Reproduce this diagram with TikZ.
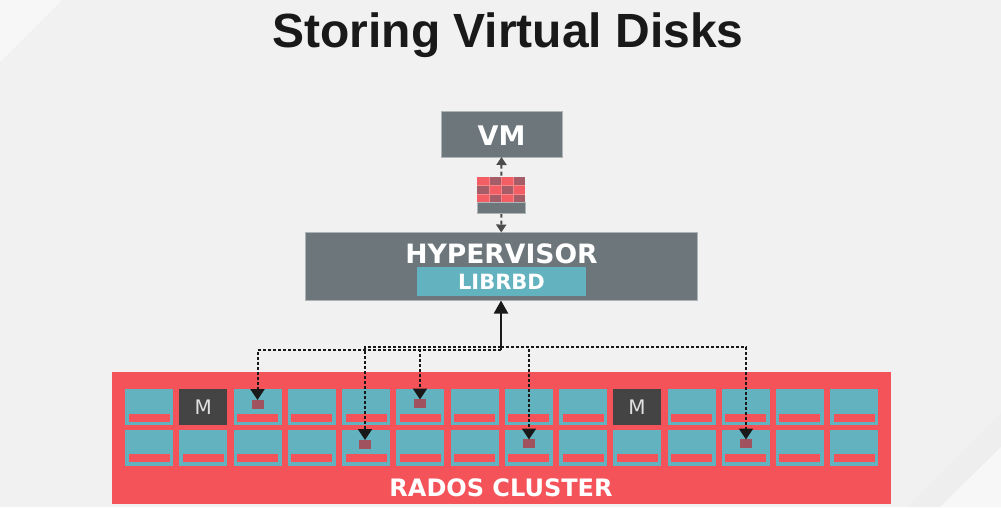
\documentclass[tikz,border=0pt]{standalone}
\usepackage{fontspec}
\setmainfont{DejaVu Sans}
\newfontfamily\titlefont{Liberation Sans}
\usetikzlibrary{arrows.meta}
\definecolor{pagegray}{HTML}{F1F1F1}
\definecolor{lightgray}{HTML}{F7F7F7}
\definecolor{bandgray}{HTML}{EEEEEE}
\definecolor{slate}{HTML}{6D767B}
\definecolor{teal}{HTML}{62B3BF}
\definecolor{radosred}{HTML}{F4535A}
\definecolor{dimred}{HTML}{A0525E}
\definecolor{monitor}{HTML}{444444}
\tikzset{
  box/.style={draw=#1, fill=#1, inner sep=0pt, outer sep=0pt, line width=0.6pt},
  graybox/.style={fill=slate, draw=slate!55!white, inner sep=0pt, outer sep=0pt, line width=0.8pt},
  label/.style={text=white, font=\bfseries\fontsize{#1}{#1}\selectfont},
  cell/.style={box=teal, minimum width=47pt, minimum height=35pt},
  moncell/.style={box=monitor, minimum width=47pt, minimum height=35pt, text=white!88!black, font=\fontsize{20}{20}\selectfont},
  stripe/.style={box=radosred, minimum width=40pt, minimum height=7pt},
  chunk/.style={box=dimred, minimum width=11pt, minimum height=8pt},
  piece/.style={fill=#1, fill opacity=0.93, draw=none, inner sep=0pt, outer sep=0pt, minimum width=12.1pt, minimum height=8.5pt},
  seam/.style={draw=white!30!radosred, line width=0.35pt},
  iolink/.style={draw=black!70, line width=2pt, dash pattern=on 4pt off 3pt, {Triangle[width=10pt,length=8pt]}-{Triangle[width=10pt,length=8pt]}},
  objlink/.style={draw=black!90, line width=2pt, dash pattern=on 3pt off 2pt, -{Triangle[width=14pt,length=11pt]}},
  uplink/.style={draw=black!90, line width=2.2pt, -{Triangle[width=14pt,length=13pt]}}
}
\begin{document}
\begin{tikzpicture}[x=1pt, y=-1pt]
  \useasboundingbox (0,0) rectangle (1001,507);
  % page background
  \fill[pagegray] (0,0) rectangle (1001,507);
  \fill[lightgray] (0,0) -- (62,0) -- (0,62) -- cycle;
  \fill[bandgray] (1001,413) -- (1001,507) -- (907,507) -- cycle;
  \fill[lightgray] (1001,447) -- (1001,507) -- (940,507) -- cycle;

  \node[text=black!90, font=\titlefont\bfseries\fontsize{48}{48}\selectfont] (title) at (508,35) {Storing Virtual Disks};

  % top boxes
  \node[graybox, minimum width=121pt, minimum height=46pt] (vm) at (501.5,134) {};
  \node[label=27] (vmtext) at (501.5,135.5) {VM};
  \node[graybox, minimum width=392pt, minimum height=68pt] (hypervisor) at (501.25,266.5) {};
  \node[label=26.6] (hyptext) at (501.5,254) {HYPERVISOR};
  \node[box=teal, minimum width=168pt, minimum height=28pt] (librbd) at (501.5,281) {};
  \node[label=21] (librbdtext) at (501.5,282) {LIBRBD};

  % image between vm and hypervisor
  \draw[iolink] (vm.south) -- (hypervisor.north);
  \foreach \r/\y in {1/181.2,2/189.6,3/198}
    \foreach \c/\x in {1/483.2,2/495.2,3/507.2,4/519.2} {
      \pgfmathtruncatemacro{\odd}{mod(\r+\c,2)}
      \ifnum\odd=0
        \node[piece=radosred] (img-\r-\c) at (\x,\y) {};
      \else
        \node[piece=dimred] (img-\r-\c) at (\x,\y) {};
      \fi
    }
  \draw[seam] (img-1-1.north east) -- (img-3-1.south east);
  \draw[seam] (img-1-2.north east) -- (img-3-2.south east);
  \draw[seam] (img-1-3.north east) -- (img-3-3.south east);
  \draw[seam] (img-1-1.south west) -- (img-1-4.south east);
  \draw[seam] (img-2-1.south west) -- (img-2-4.south east);
  \node[graybox, line width=0.4pt, minimum width=48pt, minimum height=10.5pt] (imgbar) at (501.2,207.5) {};

  % cluster
  \node[box=radosred, minimum width=778pt, minimum height=131pt] (rados) at (501.5,437.5) {};
  \node[label=24] (radostext) at (501,488) {RADOS CLUSTER};
  \foreach \r/\y in {1/407,2/447.3}
    \foreach \c in {1,...,14} {
      \pgfmathsetmacro{\x}{149+54.23*(\c-1)}
      \node[cell] (cell-\r-\c) at (\x,\y) {};
      \node[stripe] (stripe-\r-\c) at (\x,\y+10.5) {};
    }
  \node[moncell] (mon-1) at (cell-1-2) {M};
  \node[moncell] (mon-2) at (cell-1-10) {M};

  % objects
  \node[chunk] (obj-a) at (257.5,404) {};
  \node[chunk] (obj-b) at (420,403.5) {};
  \node[chunk] (obj-c) at (365,444) {};
  \node[chunk] (obj-d) at (529,443.5) {};
  \node[chunk] (obj-e) at (746,443.5) {};

  % connectors
  \coordinate (joinlow) at (501,350);
  \coordinate (joinhigh) at (501,347);
  \draw[uplink] (joinlow) -- (joinlow |- hypervisor.south);
  \draw[objlink] (joinlow) -| (obj-a.north);
  \draw[objlink] (joinlow) -| (obj-b.north);
  \draw[objlink] (joinhigh) -| (obj-c.north);
  \draw[objlink] (joinhigh) -| (obj-d.north);
  \draw[objlink] (joinhigh) -| (obj-e.north);
\end{tikzpicture}
\end{document}
